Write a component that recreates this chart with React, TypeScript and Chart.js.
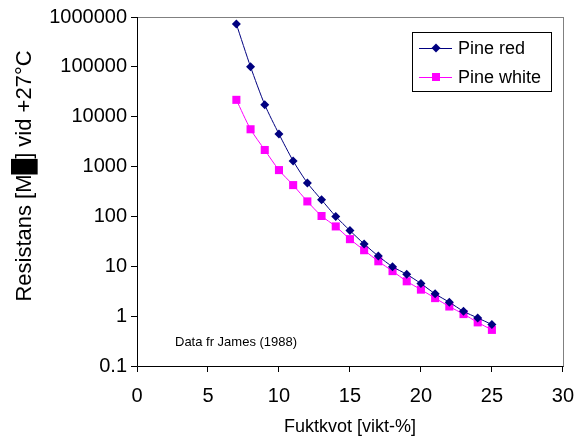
import React, { useEffect, useRef } from "react";
import { Chart, registerables } from "chart.js";

Chart.register(...registerables);

const moisture = [7, 8, 9, 10, 11, 12, 13, 14, 15, 16, 17, 18, 19, 20, 21, 22, 23, 24, 25];
const pineRed = [720000, 100000, 17400, 4500, 1300, 470, 215, 100, 52, 28, 16, 9.8, 6.9, 4.5, 2.8, 1.9, 1.25, 0.92, 0.68];
const pineWhite = [21800, 5600, 2150, 850, 425, 200, 102, 63, 35, 21, 12.6, 8, 5, 3.4, 2.3, 1.56, 1.1, 0.75, 0.53];
const yTicks = [0.1, 1, 10, 100, 1000, 10000, 100000, 1000000];
const seriesNames = ["Pine red", "Pine white"];
const seriesColors = ["#000080", "#FF00FF"];
const xTitle = "Fuktkvot [vikt-%]";
const yTitle = "Resistans [M\u2588] vid +27\u00B0C";
const note = "Data fr James (1988)";

const FONT = "'Liberation Sans', Arial, sans-serif";

export default function App() {
  const ref = useRef<HTMLCanvasElement | null>(null);
  useEffect(() => {
    if (!ref.current) return;
    const framePlugin = {
      id: "frame",
      beforeDatasetsDraw(chart: any) {
        const { ctx, chartArea: a } = chart;
        ctx.save();
        ctx.strokeStyle = "#808080";
        ctx.lineWidth = 1;
        ctx.strokeRect(Math.round(a.left) + 0.5, Math.round(a.top) + 0.5, Math.round(a.right - a.left), Math.round(a.bottom - a.top));
        ctx.strokeStyle = "#000";
        ctx.beginPath();
        ctx.moveTo(Math.round(a.left) + 0.5, Math.round(a.top));
        ctx.lineTo(Math.round(a.left) + 0.5, Math.round(a.bottom) + 0.5);
        ctx.lineTo(Math.round(a.right) + 0.5, Math.round(a.bottom) + 0.5);
        ctx.stroke();
        ctx.restore();
      },
      afterDraw(chart: any) {
        const { ctx, chartArea: a } = chart;
        ctx.save();
        // axis titles
        ctx.fillStyle = "#000";
        ctx.textAlign = "center";
        ctx.textBaseline = "middle";
        ctx.font = `18px ${FONT}`;
        ctx.fillText(xTitle, (a.left + a.right) / 2, 427);
        ctx.save();
        ctx.translate(25, 176);
        ctx.rotate(-Math.PI / 2);
        ctx.font = `22px ${FONT}`;
        ctx.fillText(yTitle, 0, 0);
        ctx.restore();
        // legend
        const bx = 412, by = 32, bw = 139, bh = 59;
        ctx.strokeStyle = "#000";
        ctx.lineWidth = 1;
        ctx.fillStyle = "#fff";
        ctx.fillRect(bx, by, bw, bh);
        ctx.strokeRect(bx + 0.5, by + 0.5, bw, bh);
        const rows = [48, 77];
        rows.forEach((y, i) => {
          ctx.strokeStyle = seriesColors[i];
          ctx.beginPath();
          ctx.moveTo(419, y + 0.5);
          ctx.lineTo(452, y + 0.5);
          ctx.stroke();
          ctx.fillStyle = seriesColors[i];
          ctx.beginPath();
          if (i === 0) {
            ctx.moveTo(436, y - 4.5);
            ctx.lineTo(440.5, y);
            ctx.lineTo(436, y + 4.5);
            ctx.lineTo(431.5, y);
            ctx.closePath();
          } else {
            ctx.rect(432, y - 4, 8, 8);
          }
          ctx.fill();
          ctx.fillStyle = "#000";
          ctx.font = `18px ${FONT}`;
          ctx.textBaseline = "middle";
          ctx.textAlign = "left";
          ctx.fillText(seriesNames[i], 458, y + 1);
        });
        // note
        ctx.fillStyle = "#000";
        ctx.font = `13px ${FONT}`;
        ctx.textBaseline = "middle";
        ctx.textAlign = "left";
        ctx.fillText(note, 175, 342);
        ctx.restore();
      },
    };

    const chart = new Chart(ref.current, {
      type: "line",
      data: {
        datasets: [
          {
            label: seriesNames[0],
            data: moisture.map((x, i) => ({ x, y: pineRed[i] })),
            borderColor: seriesColors[0],
            backgroundColor: seriesColors[0],
            borderWidth: 1,
            pointStyle: "rectRot",
            pointRadius: 4.5,
            pointBorderWidth: 0,
            tension: 0.25,
          },
          {
            label: seriesNames[1],
            data: moisture.map((x, i) => ({ x, y: pineWhite[i] })),
            borderColor: seriesColors[1],
            backgroundColor: seriesColors[1],
            borderWidth: 1,
            pointStyle: "rect",
            pointRadius: 5.7,
            pointBorderWidth: 0,
            tension: 0.25,
          },
        ],
      },
      options: {
        responsive: false,
        animation: false,
        devicePixelRatio: 1,
        layout: { padding: { top: 17, right: 20, left: 0, bottom: 0 } },
        plugins: { legend: { display: false }, tooltip: { enabled: false } },
        scales: {
          x: {
            type: "linear",
            min: 0,
            max: 30,
            afterFit: (s: any) => { s.height = 70; },
            ticks: { stepSize: 5, color: "#000", font: { family: FONT, size: 20 }, padding: 12 },
            grid: { display: true, drawOnChartArea: false, drawTicks: true, tickLength: 6, color: "#000" },
            border: { display: false },
            title: { display: false },
          },
          y: {
            type: "logarithmic",
            min: 0.1,
            max: 1000000,
            afterFit: (s: any) => { s.width = 137; },
            afterBuildTicks: (s: any) => { s.ticks = yTicks.map((v) => ({ value: v })); },
            ticks: {
              color: "#000",
              font: { family: FONT, size: 20 },
              padding: 4,
              callback: (v: any) => String(v),
            },
            grid: { display: true, drawOnChartArea: false, drawTicks: true, tickLength: 6, color: "#000" },
            border: { display: false },
            title: { display: false },
          },
        },
      },
      plugins: [framePlugin],
    } as any);
    return () => chart.destroy();
  }, []);
  return (
    <div style={{ position: "absolute", left: 0, top: 0, width: 586, height: 436, background: "#fff" }}>
      <canvas ref={ref} width={586} height={436} />
    </div>
  );
}
